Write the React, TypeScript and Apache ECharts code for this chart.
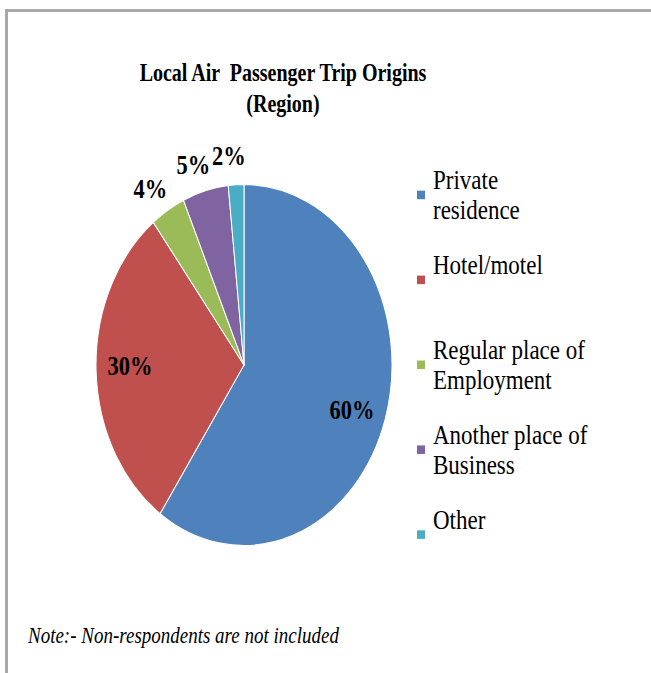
import React, { useEffect, useRef } from 'react';
import * as echarts from 'echarts';

// ---- data ----
const categories = [
  'Private residence',
  'Hotel/motel',
  'Regular place of Employment',
  'Another place of Business',
  'Other',
];
const legendLines = [
  'Private\nresidence',
  'Hotel/motel\n',
  'Regular place of\nEmployment',
  'Another place of\nBusiness',
  'Other\n',
];
const shares = [59.6, 29.9, 3.8, 5.0, 1.7];
const colors = ['#4F81BD', '#C0504D', '#9BBB59', '#8064A2', '#4BACC6'];
const titleLines = ['Local Air  Passenger Trip Origins', '(Region)'];
const noteText = 'Note:- Non-respondents are not included';

// ---- layout ----
const W = 651;
const H = 673;
const K = 1.22; // vertical stretch of the whole picture
const CH = H / K;
const FONT = 'Liberation Serif, Times New Roman, Times, serif';
const CX = 244;
const CY = 365 / K;
const R = 148;
const LH = 25;

const labelFmt = (p: any) => Math.round(p.value) + '%';
const labelStyle = {
  color: '#000',
  fontFamily: FONT,
  fontSize: 22.5,
  fontWeight: 'bold' as const,
  textBorderWidth: 0,
};

const option: any = {
  animation: false,
  backgroundColor: 'transparent',
  title: {
    text: titleLines.join('\n'),
    left: 283,
    top: 59.4 - 13,
    padding: 0,
    textAlign: 'center',
    textVerticalAlign: 'top',
    textStyle: {
      fontFamily: FONT,
      fontSize: 20,
      fontWeight: 'bold',
      color: '#000',
      lineHeight: 26,
    },
  },
  legend: {
    data: categories,
    orient: 'vertical',
    left: 417,
    top: 159.8 - 1.5 * LH,
    padding: 0,
    itemGap: -5.4,
    itemWidth: 8,
    itemHeight: 7,
    symbolKeepAspect: false,
    icon: 'rect',
    selectedMode: false,
    itemStyle: { borderWidth: 0 },
    formatter: (name: string) => legendLines[categories.indexOf(name)],
    textStyle: {
      fontFamily: FONT,
      fontSize: 23,
      color: '#000',
      lineHeight: LH,
      padding: [LH, 0, 0, 3],
      backgroundColor: 'transparent',
    },
  },
  graphic: [
    {
      type: 'text',
      x: 28,
      y: 635 / K,
      silent: true,
      style: {
        text: noteText,
        fontFamily: FONT,
        fontSize: 19,
        fontStyle: 'italic',
        fill: '#000',
        verticalAlign: 'middle',
        align: 'left',
      },
    },
  ],
  series: [
    {
      type: 'pie',
      name: 'slices',
      center: [CX, CY],
      radius: R,
      startAngle: 90,
      clockwise: true,
      label: { show: false },
      labelLine: { show: false },
      emphasis: { disabled: true },
      itemStyle: { borderColor: '#ffffff', borderWidth: 1 },
      data: shares.map((v, i) => ({
        name: categories[i],
        value: v,
        itemStyle: { color: colors[i] },
      })),
    },
    {
      type: 'pie',
      name: 'inner labels',
      center: [CX, CY],
      radius: [74, R],
      startAngle: 88.5,
      silent: true,
      z: 3,
      itemStyle: { color: 'rgba(0,0,0,0)', borderWidth: 0 },
      emphasis: { disabled: true },
      labelLine: { show: false },
      label: { position: 'inside', formatter: labelFmt, ...labelStyle },
      data: shares.map((v, i) => ({
        name: categories[i],
        value: v,
        label: { show: v >= 10 },
      })),
    },
    {
      type: 'pie',
      name: 'outer labels',
      center: [CX, CY],
      radius: [159, 179],
      startAngle: 92,
      silent: true,
      z: 3,
      itemStyle: { color: 'rgba(0,0,0,0)', borderWidth: 0 },
      emphasis: { disabled: true },
      labelLine: { show: false },
      label: { position: 'inside', formatter: labelFmt, ...labelStyle },
      data: shares.map((v, i) => ({
        name: categories[i],
        value: v,
        label: { show: v < 10 },
      })),
    },
  ],
};

export default function App() {
  const ref = useRef<HTMLDivElement>(null);
  useEffect(() => {
    const chart = echarts.init(ref.current as HTMLDivElement, null, {
      renderer: 'svg',
      width: W,
      height: CH,
    });
    chart.setOption(option);
    return () => chart.dispose();
  }, []);
  return (
    <div
      style={{
        position: 'fixed',
        left: 0,
        top: 0,
        width: W,
        height: H,
        overflow: 'hidden',
        background: '#fff',
      }}
    >
      <div
        style={{
          position: 'absolute',
          left: 5,
          top: 9,
          width: W + 20,
          height: H + 20,
          borderTop: '3px solid #a8a8a8',
          borderLeft: '3px solid #a8a8a8',
          boxSizing: 'border-box',
        }}
      />
      <div
        ref={ref}
        style={{
          position: 'absolute',
          left: 0,
          top: 0,
          width: W,
          height: CH,
          transform: `scaleY(${K})`,
          transformOrigin: '0 0',
        }}
      />
    </div>
  );
}
